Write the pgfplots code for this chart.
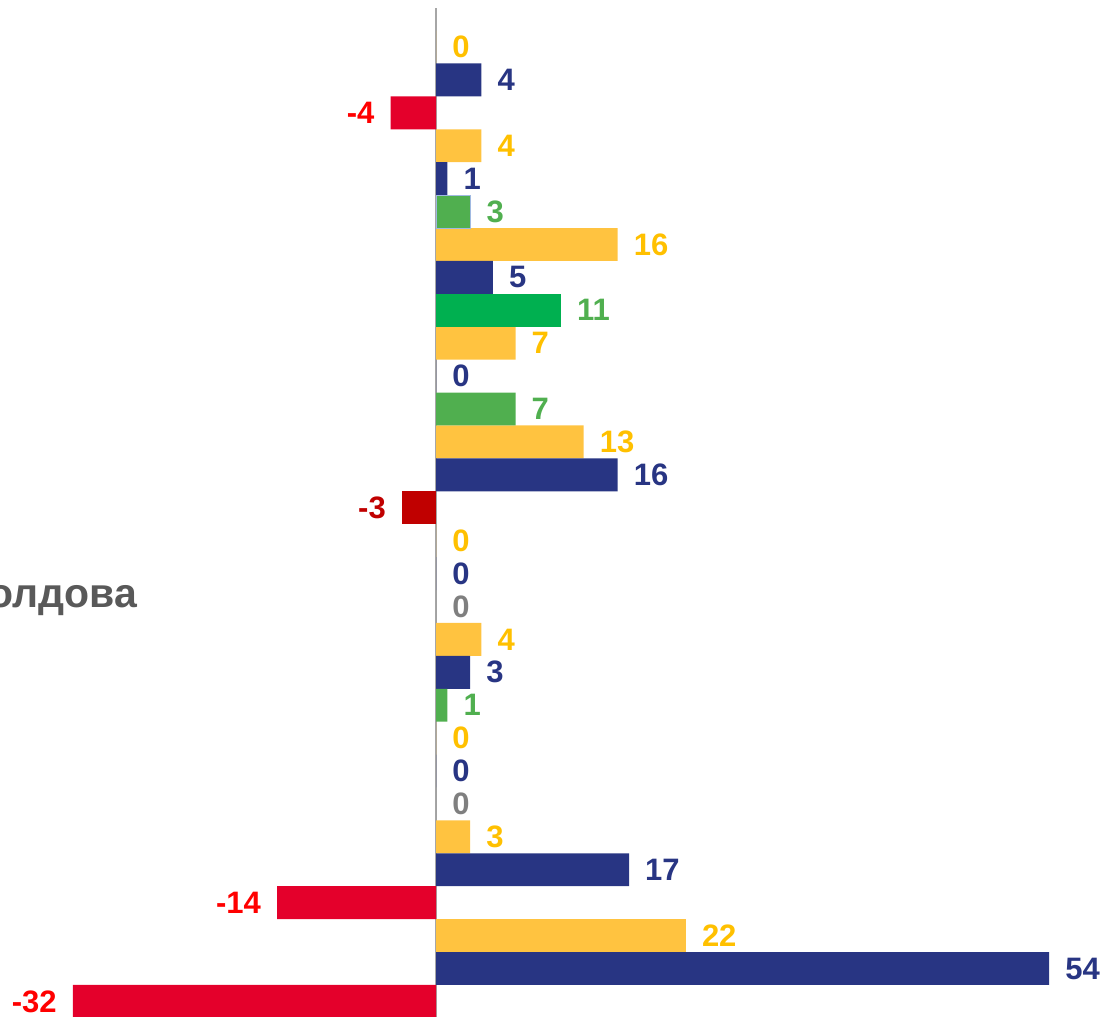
\documentclass[border=0pt]{standalone}
\usepackage{fontspec}
\setmainfont{Liberation Sans}
\usepackage{pgfplots}
\pgfplotsset{compat=1.18}
\definecolor{yel}{HTML}{FFC340}
\definecolor{yellab}{HTML}{FFC000}
\definecolor{navy}{HTML}{283583}
\definecolor{redb}{HTML}{E4002B}
\definecolor{redlab}{HTML}{FF0000}
\definecolor{grn}{HTML}{50AF4F}
\definecolor{bgrn}{HTML}{00B050}
\definecolor{dred}{HTML}{C00000}
\definecolor{gry}{HTML}{7F7F7F}
\definecolor{axgray}{HTML}{A6A6A6}
\definecolor{catgray}{HTML}{595959}
\begin{document}
\begin{tikzpicture}
\useasboundingbox (0,0) rectangle (1104pt,1017pt);
\clip (0,0) rectangle (1104pt,1017pt);
\begin{axis}[
  at={(0,0)}, anchor=south west,
  width=1104pt, height=1017pt, scale only axis,
  hide axis,
  xmin=-38.41, xmax=58.84,
  ymin=-0.428, ymax=30.474,
  y dir=reverse,
  xbar, bar width=1, bar shift=0pt,
  point meta=x,
  nodes near coords={\pgfmathprintnumber[assume math mode=true,fixed,precision=0]{\pgfplotspointmeta}},
  nodes near coords align=horizontal,
  every node near coord/.append style={font=\fontsize{31}{31}\selectfont\bfseries, inner xsep=16pt, inner ysep=0pt},
  clip=false,
]
\draw[color=axgray, line width=1.5pt] (axis cs:0,-0.185) -- (axis cs:0,30.474);
\addplot[fill=yel, draw=none, nodes near coords style={text=yellab}] coordinates {(0,1) (4,4) (16,7) (7,10) (13,13) (0,16) (4,19) (0,22) (3,25) (22,28)};
\addplot[fill=navy, draw=none, nodes near coords style={text=navy}] coordinates {(4,2) (1,5) (5,8) (0,11) (16,14) (0,17) (3,20) (0,23) (17,26) (54,29)};
\addplot[fill=redb, draw=none, nodes near coords style={text=redlab}] coordinates {(-4,3) (-14,27) (-32,30)};
\addplot[fill=grn, draw=none, nodes near coords style={text=grn}] coordinates {(7,12) (1,21)};
\addplot[fill=grn, draw={rgb,255:red,160;green,185;blue,225}, line width=1pt, nodes near coords style={text=grn}] coordinates {(3,6)};
\addplot[fill=bgrn, draw=none, nodes near coords style={text=grn}] coordinates {(11,9)};
\addplot[fill=dred, draw=none, nodes near coords style={text=dred}] coordinates {(-3,15)};
\addplot[fill=gry, draw=none, nodes near coords style={text=gry}] coordinates {(0,18) (0,24)};
\node[anchor=base east, inner sep=0pt, text=catgray, font=\fontsize{41}{41}\selectfont\bfseries] at (axis cs:-26.34,18.04) {олдова};
\end{axis}
\end{tikzpicture}
\end{document}
